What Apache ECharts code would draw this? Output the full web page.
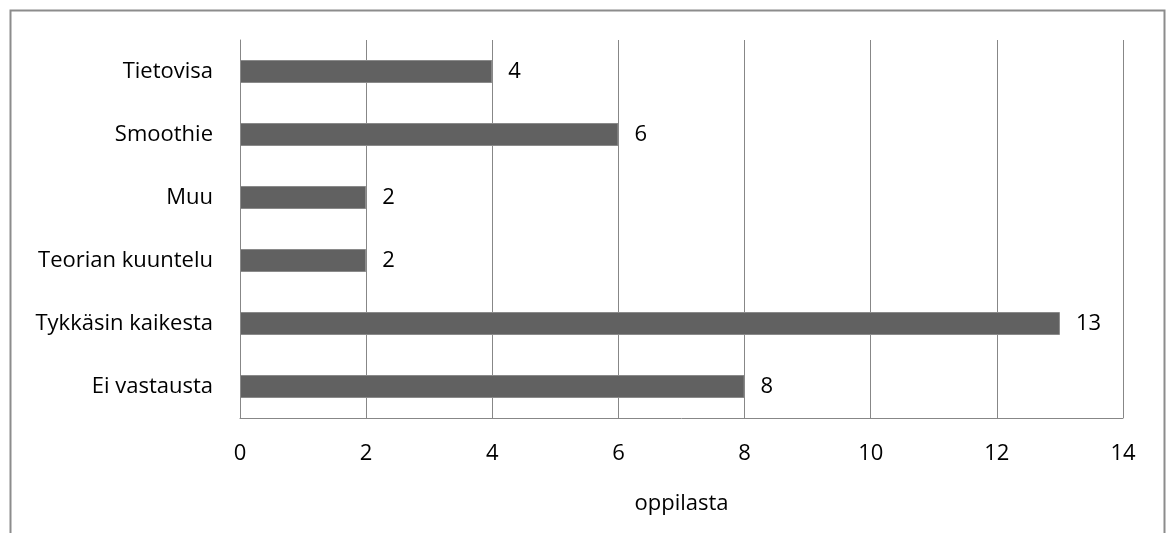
<!DOCTYPE html>
<html><head><meta charset="utf-8">
<script src="https://cdn.jsdelivr.net/npm/echarts@6/dist/echarts.min.js"></script>
<style>html,body{margin:0;padding:0;background:#fff}#c{width:1166px;height:533px}</style>
</head><body><div id="c"></div>
<script>
const categories = ["Ei vastausta", "Tykkäsin kaikesta", "Teorian kuuntelu", "Muu", "Smoothie", "Tietovisa"];
const values = [8, 13, 2, 2, 6, 4];
const xTicks = [0, 2, 4, 6, 8, 10, 12, 14];
const axisTitle = "oppilasta";

const font = "'Open Sans', 'Noto Sans', sans-serif";
const fs = 22;
const chart = echarts.init(document.getElementById('c'), null, {renderer: 'canvas'});
chart.setOption({
  animation: false,
  backgroundColor: '#fff',
  graphic: [{type: 'rect', shape: {x: 10.5, y: 10.5, width: 1154, height: 600}, style: {fill: 'none', stroke: '#8c8c8c', lineWidth: 2}, silent: true}],
  grid: {left: 240, right: 43, top: 40, bottom: 115, containLabel: false},
  xAxis: {
    type: 'value', min: xTicks[0], max: xTicks[xTicks.length - 1], interval: 2,
    name: axisTitle, nameLocation: 'middle', nameGap: 75,
    nameTextStyle: {fontFamily: font, fontSize: fs, color: '#000'},
    axisLine: {show: true, lineStyle: {color: '#878787', width: 1}},
    axisTick: {show: false},
    axisLabel: {fontFamily: font, fontSize: fs, color: '#000', margin: 25},
    splitLine: {show: true, lineStyle: {color: '#878787', width: 1}}
  },
  yAxis: {
    type: 'category', data: categories,
    axisLine: {show: true, lineStyle: {color: '#878787', width: 1}},
    axisTick: {show: false},
    axisLabel: {fontFamily: font, fontSize: fs, color: '#000', margin: 27}
  },
  series: [{
    type: 'bar', data: values, barWidth: 23,
    itemStyle: {color: '#616161', borderColor: '#8a8a8a', borderWidth: 1},
    label: {show: true, position: 'right', distance: 16, fontFamily: font, fontSize: fs, color: '#000'}
  }]
});
</script></body></html>
